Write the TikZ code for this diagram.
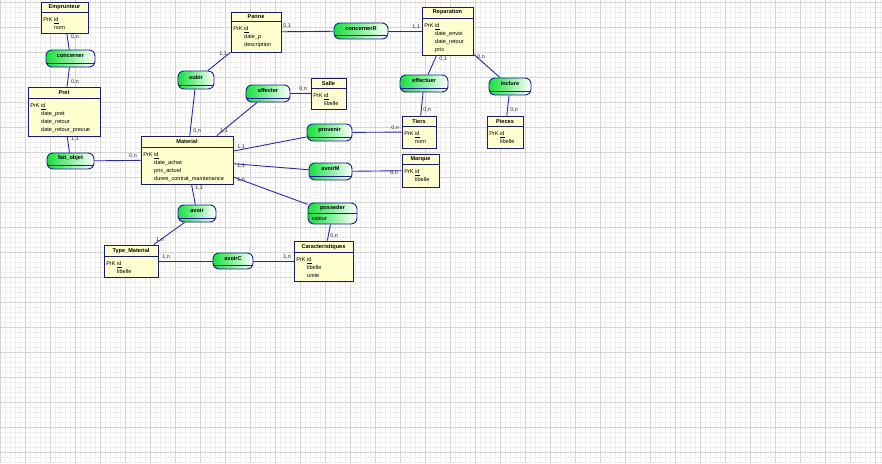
\documentclass[tikz,border=0pt]{standalone}
\usepackage{fontspec}
\setmainfont{Liberation Sans}
\definecolor{entbord}{RGB}{25,25,125}
\definecolor{entfond}{RGB}{255,255,208}
\definecolor{assbord}{RGB}{30,30,150}
\definecolor{assvert}{RGB}{20,225,60}
\definecolor{lienbleu}{RGB}{40,40,175}
\definecolor{cardtxt}{RGB}{40,40,40}
\definecolor{grillefine}{RGB}{238,238,238}
\definecolor{grillemaj}{RGB}{212,212,212}
\newcommand{\ind}{\phantom{PrK} }

\begin{document}
\begin{tikzpicture}[x=1pt, y=-1pt,
	entite/.style={draw=entbord, fill=entfond, line width=0.9pt, inner sep=0pt},
	assoc/.style={draw=assbord, rounded corners=6pt, left color=assvert, right color=white, line width=0.9pt, inner sep=0pt},
	trait/.style={draw=entbord, line width=0.8pt},
	titre/.style={font=\fontsize{5.6}{7}\selectfont\bfseries, inner sep=0pt},
	attr/.style={font=\fontsize{5.6}{8}\selectfont, align=left, inner sep=0pt, anchor=north west},
	card/.style={font=\fontsize{5.4}{6}\selectfont, text=cardtxt, inner sep=0pt},
	lien/.style={draw=lienbleu, line width=0.9pt}]
	
	\useasboundingbox (0,0) rectangle (882,463);
	\fill[white] (0,0) rectangle (882,463);
	
	% grille de fond
	\foreach \i in {0,5,...,880} \draw[grillefine, line width=0.35pt] (\i,0) -- (\i,463);
	\foreach \j in {2,7,...,462} \draw[grillefine, line width=0.35pt] (0,\j) -- (882,\j);
	\foreach \i in {0,25,...,875} \draw[grillemaj, line width=0.45pt] (\i,0) -- (\i,463);
	\foreach \j in {2,27,...,452} \draw[grillemaj, line width=0.45pt] (0,\j) -- (882,\j);
	
	% entites
	\node[entite, minimum width=47, minimum height=31] (emprunteur) at (64.5,17.5) {};
	\draw[trait] ([yshift=-11pt]emprunteur.north west) -- ([yshift=-11pt]emprunteur.north east);
	\node[titre] (t-emprunteur) at ([yshift=-5.5pt]emprunteur.north) {Emprunteur};
	\node[attr] (a-emprunteur) at ([xshift=2.5pt, yshift=-15.5pt]emprunteur.north west) {PrK \underline{id}\\\ind nom};
	
	\node[entite, minimum width=72, minimum height=49] (pret) at (64,111.5) {};
	\draw[trait] ([yshift=-12pt]pret.north west) -- ([yshift=-12pt]pret.north east);
	\node[titre] (t-pret) at ([yshift=-6pt]pret.north) {Pret};
	\node[attr] (a-pret) at ([xshift=2.5pt, yshift=-16.5pt]pret.north west) {PrK \underline{id}\\\ind date\_pret\\\ind date\_retour\\\ind date\_retour\_prevue};
	
	\node[entite, minimum width=50, minimum height=40] (panne) at (256,32) {};
	\draw[trait] ([yshift=-10pt]panne.north west) -- ([yshift=-10pt]panne.north east);
	\node[titre] (t-panne) at ([yshift=-5pt]panne.north) {Panne};
	\node[attr] (a-panne) at ([xshift=2.5pt, yshift=-14.5pt]panne.north west) {PrK \underline{id}\\\ind date\_p\\\ind description};
	
	\node[entite, minimum width=51, minimum height=48] (reparation) at (447.5,31) {};
	\draw[trait] ([yshift=-12pt]reparation.north west) -- ([yshift=-12pt]reparation.north east);
	\node[titre] (t-reparation) at ([yshift=-6pt]reparation.north) {Reparation};
	\node[attr] (a-reparation) at ([xshift=2.5pt, yshift=-16.5pt]reparation.north west) {PrK \underline{id}\\\ind date\_envoi\\\ind date\_retour\\\ind prix};
	
	\node[entite, minimum width=35, minimum height=31] (salle) at (328.5,93.5) {};
	\draw[trait] ([yshift=-11pt]salle.north west) -- ([yshift=-11pt]salle.north east);
	\node[titre] (t-salle) at ([yshift=-5.5pt]salle.north) {Salle};
	\node[attr] (a-salle) at ([xshift=2.5pt, yshift=-15.5pt]salle.north west) {PrK \underline{id}\\\ind libelle};
	
	\node[entite, minimum width=34, minimum height=32] (tiers) at (419,132) {};
	\draw[trait] ([yshift=-11pt]tiers.north west) -- ([yshift=-11pt]tiers.north east);
	\node[titre] (t-tiers) at ([yshift=-5.5pt]tiers.north) {Tiers};
	\node[attr] (a-tiers) at ([xshift=2.5pt, yshift=-15.5pt]tiers.north west) {PrK \underline{id}\\\ind nom};
	
	\node[entite, minimum width=36, minimum height=32] (pieces) at (505,132) {};
	\draw[trait] ([yshift=-11pt]pieces.north west) -- ([yshift=-11pt]pieces.north east);
	\node[titre] (t-pieces) at ([yshift=-5.5pt]pieces.north) {Pieces};
	\node[attr] (a-pieces) at ([xshift=2.5pt, yshift=-15.5pt]pieces.north west) {PrK \underline{id}\\\ind libelle};
	
	\node[entite, minimum width=92, minimum height=48] (material) at (187,160) {};
	\draw[trait] ([yshift=-12pt]material.north west) -- ([yshift=-12pt]material.north east);
	\node[titre] (t-material) at ([yshift=-6pt]material.north) {Material};
	\node[attr] (a-material) at ([xshift=2.5pt, yshift=-16.5pt]material.north west) {PrK \underline{id}\\\ind date\_achat\\\ind prix\_actuel\\\ind duree\_contrat\_maintenance};
	
	\node[entite, minimum width=37, minimum height=33] (marque) at (420.5,170.5) {};
	\draw[trait] ([yshift=-11pt]marque.north west) -- ([yshift=-11pt]marque.north east);
	\node[titre] (t-marque) at ([yshift=-5.5pt]marque.north) {Marque};
	\node[attr] (a-marque) at ([xshift=2.5pt, yshift=-15.5pt]marque.north west) {PrK \underline{id}\\\ind libelle};
	
	\node[entite, minimum width=54, minimum height=32] (typemat) at (131,261) {};
	\draw[trait] ([yshift=-12pt]typemat.north west) -- ([yshift=-12pt]typemat.north east);
	\node[titre] (t-typemat) at ([yshift=-6pt]typemat.north) {Type\_Material};
	\node[attr] (a-typemat) at ([xshift=2.5pt, yshift=-16.5pt]typemat.north west) {PrK \underline{id}\\\ind libelle};
	
	\node[entite, minimum width=59, minimum height=40] (carac) at (323.5,261) {};
	\draw[trait] ([yshift=-12pt]carac.north west) -- ([yshift=-12pt]carac.north east);
	\node[titre] (t-carac) at ([yshift=-6pt]carac.north) {Caracteristiques};
	\node[attr] (a-carac) at ([xshift=2.5pt, yshift=-16.5pt]carac.north west) {PrK \underline{id}\\\ind libelle\\\ind unite};
	
	% associations
	\foreach \nom/\cx/\cy/\w/\h/\txt in {
		concerner/70.5/58.5/49/17/concerner,
		faitobjet/70.5/161/47/16/fait\_objet,
		subir/196/80/36/18/subir,
		affecter/268/93.5/44/17/affecter,
		concernerR/361/31/54/16/concernerR,
		effectuer/424/83.5/48/17/effectuer,
		inclure/510/86.5/42/17/inclure,
		provenir/329.5/132.5/45/17/provenir,
		avoirM/330.5/171.5/43/17/avoirM,
		avoir/197/213.5/38/17/avoir,
		avoirC/233/261/40/16/avoirC}
	{
		\node[assoc, minimum width=\w, minimum height=\h] (\nom) at (\cx,\cy) {};
		\draw[trait, draw=assbord] ([xshift=0.5pt, yshift=4.5pt]\nom.south west) -- ([xshift=-0.5pt, yshift=4.5pt]\nom.south east);
		\node[titre] (t-\nom) at ([yshift={-(\h-4.5)/2}]\nom.north) {\txt};
	}
	% posseder, avec son attribut
	\node[assoc, minimum width=49, minimum height=21] (posseder) at (332.5,213.5) {};
	\draw[trait, draw=assbord] ([yshift=-11pt]posseder.north west) -- ([yshift=-11pt]posseder.north east);
	\node[titre] (t-posseder) at ([yshift=-5.5pt]posseder.north) {posseder};
	\node[attr, anchor=west] (v-posseder) at ([xshift=4pt, yshift=-16pt]posseder.north west) {valeur};
	
	% liens
	\draw[lien] (emprunteur) -- (concerner);
	\draw[lien] (concerner) -- (pret);
	\draw[lien] (pret) -- (faitobjet);
	\draw[lien] (faitobjet) -- (material);
	\draw[lien] (panne) -- (subir);
	\draw[lien] (subir) -- (material);
	\draw[lien] (affecter) -- (material);
	\draw[lien] (affecter) -- (salle);
	\draw[lien] (panne) -- (concernerR);
	\draw[lien] (concernerR) -- (reparation);
	\draw[lien] (reparation) -- (effectuer);
	\draw[lien] (effectuer) -- (tiers);
	\draw[lien] (reparation) -- (inclure);
	\draw[lien] (inclure) -- (pieces);
	\draw[lien] (material) -- (provenir);
	\draw[lien] (provenir) -- (tiers);
	\draw[lien] (material) -- (avoirM);
	\draw[lien] (avoirM) -- (marque);
	\draw[lien] (material) -- (posseder);
	\draw[lien] (posseder) -- (carac);
	\draw[lien] (material) -- (avoir);
	\draw[lien] (avoir) -- (typemat);
	\draw[lien] (typemat) -- (avoirC);
	\draw[lien] (avoirC) -- (carac);
	
	% cardinalites
	\node[card] (c1) at (75,37) {0,n};
	\node[card] (c2) at (75,82) {0,n};
	\node[card] (c3) at (75,139) {1,1};
	\node[card] (c4) at (133,156) {0,n};
	\node[card] (c5) at (223,54) {1,1};
	\node[card] (c6) at (197,131) {0,n};
	\node[card] (c7) at (224,131) {1,1};
	\node[card] (c8) at (303,89) {0,n};
	\node[card] (c9) at (287,26) {0,1};
	\node[card] (c10) at (416,27) {1,1};
	\node[card] (c11) at (443,59) {0,1};
	\node[card] (c12) at (427,110) {0,n};
	\node[card] (c13) at (481,57) {0,n};
	\node[card] (c14) at (514,110) {0,n};
	\node[card] (c15) at (395,128) {0,n};
	\node[card] (c16) at (241,147) {1,1};
	\node[card] (c17) at (241,166) {1,1};
	\node[card] (c18) at (394,173) {0,n};
	\node[card] (c19) at (241,180) {1,n};
	\node[card] (c20) at (334,236) {0,n};
	\node[card] (c21) at (199,188) {1,1};
	\node[card] (c22) at (160,240) {1,n};
	\node[card] (c23) at (166,257) {1,n};
	\node[card] (c24) at (287,257) {1,n};
\end{tikzpicture}
\end{document}
